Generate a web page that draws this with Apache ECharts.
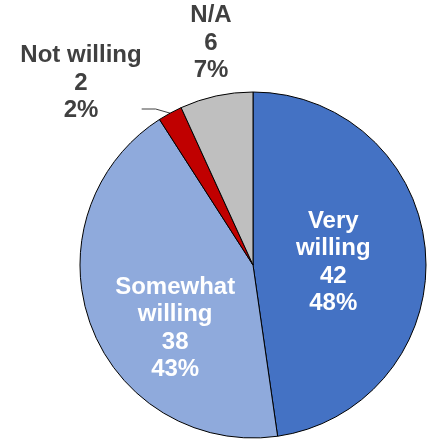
<!DOCTYPE html>
<html>
<head>
<meta charset="utf-8">
<script src="https://cdn.jsdelivr.net/npm/echarts@6/dist/echarts.min.js"></script>
<style>html,body{margin:0;padding:0;background:#fff;}#c{width:433px;height:439px;}</style>
</head>
<body>
<div id="c"></div>
<script>
const categories = ['Very\nwilling', 'Somewhat\nwilling', 'Not willing', 'N/A'];
const counts = [42, 38, 2, 6];
const percents = ['48%', '43%', '2%', '7%'];
const colors = ['#4472C4', '#8FAADC', '#C00000', '#BFBFBF'];

const chart = echarts.init(document.getElementById('c'), null, {renderer: 'canvas'});
const inside = [true, true, false, false];
const data = categories.map((c, i) => ({
  name: c,
  value: counts[i],
  itemStyle: {color: colors[i]},
  label: inside[i] ? {
    position: 'inside', color: '#FFFFFF'
  } : {
    position: 'outside', color: '#404040'
  },
  labelLine: {show: i === 2, length: 12, length2: 14, smooth: false, lineStyle: {color: '#404040', width: 1}}
}));

const layoutMap = {
  0: {dx: -9, dy: 4},
  1: {dx: 6, dy: 32},
  2: {x: 81, y: 109, align: 'center', verticalAlign: 'middle'},
  3: {x: 211, y: 43, align: 'center', verticalAlign: 'middle'}
};

chart.setOption({
  animation: false,
  backgroundColor: '#FFFFFF',
  series: [{
    type: 'pie',
    center: [253, 265],
    radius: [0, 173],
    startAngle: 90,
    clockwise: true,
    avoidLabelOverlap: false,
    emphasis: {disabled: true},
    itemStyle: {borderColor: '#000000', borderWidth: 1},
    label: {
      show: true,
      fontFamily: 'Liberation Sans, Arial, sans-serif',
      fontWeight: 'bold',
      fontSize: 24,
      lineHeight: 27.5,
      align: 'center',
      rich: {sp: {fontSize: 1, lineHeight: 52}},
      formatter: p => p.name + '\n' + p.value + '\n' + percents[p.dataIndex] +
        (p.dataIndex === 2 ? '\n{sp| }' : '')
    },
    labelLayout: p => layoutMap[p.dataIndex],
    data: data
  }]
});
</script>
</body>
</html>
